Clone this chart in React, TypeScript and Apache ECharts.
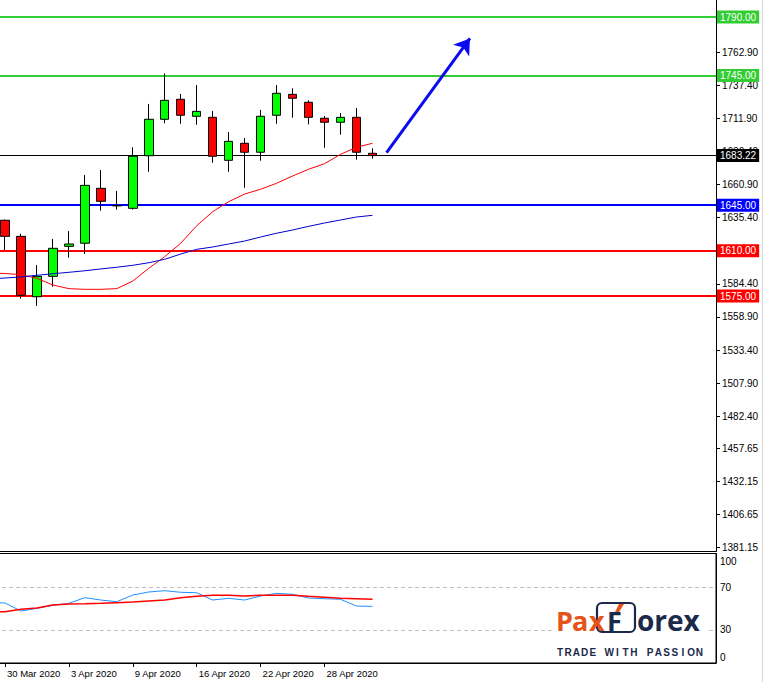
import { useEffect, useRef } from 'react';
import * as echarts from 'echarts';

// ---- data ----
const dates = [
  '27 Mar 2020', '30 Mar 2020', '31 Mar 2020', '1 Apr 2020', '2 Apr 2020', '3 Apr 2020',
  '6 Apr 2020', '7 Apr 2020', '8 Apr 2020', '9 Apr 2020', '13 Apr 2020', '14 Apr 2020',
  '15 Apr 2020', '16 Apr 2020', '17 Apr 2020', '20 Apr 2020', '21 Apr 2020', '22 Apr 2020',
  '23 Apr 2020', '24 Apr 2020', '27 Apr 2020', '28 Apr 2020', '29 Apr 2020', '30 Apr 2020',
  '1 May 2020',
];
const emptySlots = 21;
const labelledDates = ['30 Mar 2020', '3 Apr 2020', '9 Apr 2020', '16 Apr 2020', '22 Apr 2020', '28 Apr 2020'];

const opens = [null, 1633.4, 1621.0, 1574.5, 1590.2, 1613.3, 1615.7, 1658.0, 1644.6, 1642.6, 1683.1, 1711.2, 1726.6, 1713.5, 1712.7, 1679.6, 1692.7, 1685.8, 1714.3, 1730.4, 1724.3, 1712.0, 1708.9, 1712.7, 1685.0];
const closes = [null, 1621.0, 1575.6, 1590.2, 1611.8, 1615.1, 1660.3, 1648.0, 1644.6, 1682.7, 1711.2, 1725.8, 1714.3, 1717.3, 1682.7, 1694.2, 1685.8, 1713.5, 1731.2, 1727.4, 1712.7, 1708.9, 1712.7, 1685.8, 1683.22];
const lows = [null, 1610.5, 1573.0, 1567.4, 1582.2, 1604.6, 1607.4, 1640.8, 1641.6, 1641.6, 1670.8, 1708.1, 1707.8, 1707.0, 1677.7, 1670.8, 1658.5, 1679.3, 1707.8, 1712.4, 1707.3, 1689.3, 1699.3, 1680.1, 1680.8];
const highs = [null, 1634.0, 1623.0, 1598.9, 1619.0, 1625.1, 1668.3, 1672.1, 1656.0, 1689.6, 1723.0, 1746.5, 1730.7, 1737.6, 1717.6, 1701.4, 1696.8, 1718.4, 1737.6, 1735.1, 1725.8, 1713.7, 1716.0, 1719.9, 1688.8];

const maFast = [1592.8, 1592.4, 1591.5, 1588.7, 1583.5, 1580.7, 1580.2, 1580.2, 1580.7, 1586.6, 1596.4, 1605.4, 1615.7, 1629.2, 1640.0, 1647.7, 1653.6, 1657.3, 1661.9, 1667.5, 1672.7, 1677.0, 1684.2, 1689.6, 1692.7];
const maSlow = [1588.2, 1588.9, 1589.7, 1591.0, 1592.2, 1593.3, 1594.5, 1595.9, 1597.2, 1598.7, 1600.7, 1603.3, 1607.4, 1611.0, 1612.8, 1615.1, 1617.4, 1620.5, 1623.4, 1625.9, 1628.7, 1631.3, 1633.6, 1635.9, 1637.2];

const oscMain = [56, 55.5, 47.9, 50.4, 53.3, 55.2, 60.5, 58.3, 56.7, 63, 65.9, 67.1, 65.6, 65.2, 58.3, 59.9, 58.3, 62.1, 64.6, 63.7, 60.2, 59.5, 59.0, 52.6, 52.3];
const oscSignal = [47, 47.3, 49.5, 50.8, 53.6, 54.5, 54.8, 55.2, 55.8, 56.4, 57.4, 58.3, 60.5, 61.8, 62.8, 62.8, 62.1, 62.8, 62.8, 62.8, 61.8, 60.9, 59.9, 59.5, 59.0];

const priceTicks = [1762.9, 1737.4, 1711.9, 1686.4, 1660.9, 1635.4, 1584.4, 1558.9, 1533.4, 1507.9, 1482.4, 1457.65, 1432.15, 1406.65, 1381.15];
const oscTicks = [0, 30, 70, 100];
const oscLevels = [70, 30];
const levelPrices = [1790, 1745, 1683.22, 1645, 1610, 1575];
const arrowFrom = [24.88, 1685.5];
const arrowTo = [30.1, 1773.5];

// ---- styles / layout ----
const OFF = 19; // chart canvas starts this many px left of the page edge
const FONT = "'Liberation Sans', Arial, sans-serif";
const levelColors = ['#32CD32', '#32CD32', '#000000', '#0000FF', '#FF0000', '#FF0000'];
const levelWidths = [2, 2, 1, 2, 2, 2];
const ORANGE = '#E5531A';
const NAVY = '#1B2A4A';

export default function App() {
  const ref = useRef<HTMLDivElement>(null);

  useEffect(() => {
    document.body.style.margin = '0';
    if (!ref.current) return;
    const chart = echarts.init(ref.current, undefined, { renderer: 'svg' });

    const categories = [...dates, ...Array.from({ length: emptySlots }, (_, k) => `slot${k}`)];
    const nCat = categories.length;
    const candles = dates.map((_, i) =>
      opens[i] == null ? '-' : [opens[i], closes[i], lows[i], highs[i]]
    );

    const tagline = 'TRADE WITH PASSION';
    const tagChars = tagline.split('').map((ch, k) => ({
      type: 'text',
      x: OFF + 560 + k * 8.2,
      y: 652,
      z: 12,
      style: { text: ch, font: `bold 10px ${FONT}`, fill: NAVY, align: 'center', verticalAlign: 'middle' },
    }));

    const logoFont = "bold 27px 'Open Sans', sans-serif";
    const logoText = (text: string, x: number, fill: string) => ({
      type: 'text', z: 12, x: OFF + x, y: 620,
      style: { text, font: logoFont, fill, verticalAlign: 'middle' },
    });

    chart.setOption({
      animation: false,
      grid: [
        { left: 0, right: 47, top: 0, height: 551.5 },
        {
          left: 0, right: 47, top: 553.5, height: 109.5,
          show: true, borderColor: '#000', borderWidth: 1, backgroundColor: 'transparent',
        },
      ],
      xAxis: [
        {
          type: 'category', gridIndex: 0, data: categories, boundaryGap: true,
          axisLine: { show: true, onZero: false, lineStyle: { color: '#000', width: 1 } },
          axisTick: { show: false }, axisLabel: { show: false }, splitLine: { show: false },
        },
        {
          type: 'category', gridIndex: 1, data: categories, boundaryGap: true,
          axisLine: { show: true, onZero: false, lineStyle: { color: '#000', width: 1 } },
          axisTick: { show: true, alignWithLabel: true, length: 4, lineStyle: { color: '#000' } },
          axisLabel: {
            show: true,
            interval: (_idx: number, val: string) => labelledDates.includes(val),
            align: 'left', margin: 5, color: '#000', fontSize: 9.5, fontFamily: FONT,
            padding: [0, 0, 0, 2],
          },
          splitLine: { show: false },
        },
        { type: 'value', gridIndex: 0, min: -0.5, max: nCat - 0.5, show: false },
      ],
      yAxis: [
        {
          type: 'value', gridIndex: 0, position: 'right', min: 1378.2, max: 1803.1,
          axisLine: { show: true, onZero: false, lineStyle: { color: '#000' } },
          axisTick: { show: true, length: 4, lineStyle: { color: '#000' }, customValues: priceTicks },
          axisLabel: {
            customValues: priceTicks, formatter: (v: number) => v.toFixed(2),
            color: '#000', fontSize: 10, fontFamily: FONT, margin: 6,
          },
          splitLine: { show: false },
        },
        {
          type: 'value', gridIndex: 1, position: 'right', min: -1.23, max: 102.27,
          axisLine: { show: true, onZero: false, lineStyle: { color: '#000' } },
          axisTick: { show: false, customValues: oscTicks },
          axisLabel: {
            customValues: oscTicks,
            formatter: (v: number) => (v === 100 ? '{top|100}' : v === 0 ? '{bot|0}' : String(v)),
            rich: {
              top: { padding: [11, 0, 0, 0], fontSize: 10, fontFamily: FONT, color: '#000' },
              bot: { padding: [0, 0, 8, 0], fontSize: 10, fontFamily: FONT, color: '#000' },
            },
            color: '#000', fontSize: 10, fontFamily: FONT, margin: 4,
          },
          splitLine: { show: false },
        },
      ],
      series: [
        {
          type: 'candlestick', xAxisIndex: 0, yAxisIndex: 0, data: candles, barWidth: 9,
          itemStyle: {
            color: '#00FF00', color0: '#FF0000', borderColor: '#000', borderColor0: '#000',
            borderColorDoji: '#000', borderWidth: 1,
          },
          markLine: {
            z: 1, silent: true, symbol: 'none', animation: false,
            data: levelPrices.map((v, k) => ({
              yAxis: v,
              lineStyle: { color: levelColors[k], width: levelWidths[k], type: 'solid' },
              label: {
                show: true, position: 'end', distance: 1, formatter: v.toFixed(2),
                color: '#fff', backgroundColor: levelColors[k], padding: [2, 3, 1, 3],
                fontSize: 10, fontFamily: FONT,
              },
            })),
          },
        },
        {
          type: 'line', xAxisIndex: 0, yAxisIndex: 0, data: maFast, symbol: 'none',
          lineStyle: { color: '#FF0000', width: 1 }, z: 3,
        },
        {
          type: 'line', xAxisIndex: 0, yAxisIndex: 0, data: maSlow, symbol: 'none',
          lineStyle: { color: '#0000CD', width: 1 }, z: 3,
        },
        {
          type: 'line', xAxisIndex: 2, yAxisIndex: 0, data: [arrowFrom, arrowTo], symbol: 'none',
          lineStyle: { width: 0, opacity: 0 },
          markLine: {
            silent: true, animation: false, symbol: ['none', 'arrow'], symbolSize: 15,
            label: { show: false },
            lineStyle: { color: '#0A0AF0', width: 3, type: 'solid' },
            data: [[{ coord: arrowFrom }, { coord: arrowTo }]],
          },
        },
        {
          type: 'line', xAxisIndex: 1, yAxisIndex: 1, data: oscMain, symbol: 'none',
          lineStyle: { color: '#1E90FF', width: 1 },
          markLine: {
            z: 1, silent: true, symbol: 'none', animation: false, label: { show: false },
            lineStyle: { color: '#C0C0C0', width: 1, type: [4, 3] },
            data: oscLevels.map((v) => ({ yAxis: v })),
          },
        },
        {
          type: 'line', xAxisIndex: 1, yAxisIndex: 1, data: oscSignal, symbol: 'none',
          lineStyle: { color: '#FF0000', width: 1.5 },
        },
      ],
      graphic: [
        { type: 'line', shape: { x1: OFF + 762.5, y1: 0, x2: OFF + 762.5, y2: 682 }, style: { stroke: '#D8D8D8', lineWidth: 1 } },
        { type: 'rect', z: 10, shape: { x: OFF + 553, y: 600, width: 154, height: 62 }, style: { fill: '#fff' } },
        logoText('P', 556, ORANGE),
        logoText('a', 572, ORANGE),
        { type: 'rect', z: 11, shape: { x: OFF + 597, y: 603, width: 38, height: 29, r: 5 }, style: { fill: '#fff', stroke: NAVY, lineWidth: 2.2 } },
        logoText('x', 589, ORANGE),
        logoText('F', 607, NAVY),
        { type: 'polygon', z: 13, shape: { points: [[OFF + 619, 604], [OFF + 624, 604], [OFF + 619, 612], [OFF + 615, 612]] }, style: { fill: ORANGE } },
        { type: 'text', z: 12, x: OFF + 637, y: 620, style: { text: 'orex', font: "bold 28px 'Open Sans', sans-serif", fill: NAVY, verticalAlign: 'middle' } },
        ...tagChars,
      ],
    });

    return () => chart.dispose();
  }, []);

  return (
    <div
      ref={ref}
      style={{ position: 'absolute', left: -OFF, top: 0, width: 763 + OFF, height: 682 }}
    />
  );
}
